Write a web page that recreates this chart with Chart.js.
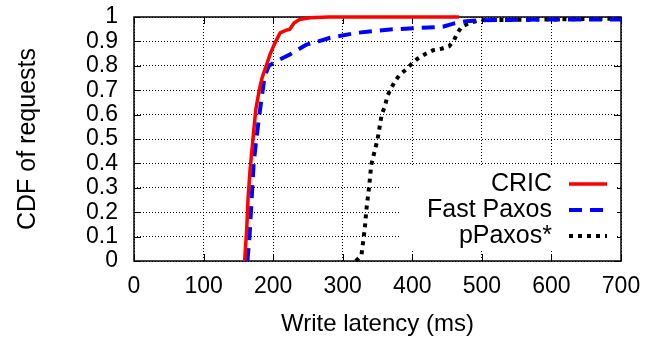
<!DOCTYPE html>
<html>
<head>
<meta charset="utf-8">
<script src="https://cdn.jsdelivr.net/npm/chart.js@4.4.1/dist/chart.umd.min.js"></script>
<style>
html, body { margin: 0; padding: 0; background: #fff; }
#wrap { width: 660px; height: 341px; }
</style>
</head>
<body>
<div id="wrap"><canvas id="cdfChart" width="660" height="341"></canvas></div>
<script>
// axis ticks
var xTicks = [0, 100, 200, 300, 400, 500, 600, 700];
var yTicks = [0, 0.1, 0.2, 0.3, 0.4, 0.5, 0.6, 0.7, 0.8, 0.9, 1];
var yLabels = ["0", "0.1", "0.2", "0.3", "0.4", "0.5", "0.6", "0.7", "0.8", "0.9", "1"];

var seriesNames = ["CRIC", "Fast Paxos", "pPaxos*"];

// CRIC
var cricLatency = [159, 162, 164, 167, 170, 172, 175, 180, 184, 190, 196, 202, 210, 218, 224, 230, 238, 253, 280, 467];
var cricCdf     = [0, 0.13, 0.26, 0.38, 0.47, 0.53, 0.62, 0.7, 0.75, 0.8, 0.85, 0.89, 0.935, 0.945, 0.95, 0.975, 0.99, 0.997, 1, 1];

// Fast Paxos
var fastLatency = [163, 166, 168, 170, 172, 175, 178, 183, 188, 194, 205, 224, 248, 265, 282, 320, 368, 444, 459, 478, 497, 600, 700];
var fastCdf     = [0, 0.1, 0.2, 0.3, 0.4, 0.48, 0.55, 0.66, 0.76, 0.8, 0.82, 0.846, 0.887, 0.9, 0.915, 0.935, 0.949, 0.96, 0.973, 0.983, 0.987, 0.99, 0.99];

// pPaxos*
var ppaxosLatency = [319, 327, 332, 334, 338, 341, 350, 356, 361, 364, 369, 375, 382, 391, 399, 408, 420, 430, 442, 453, 460, 465, 471, 483, 497, 600, 700];
var ppaxosCdf     = [0, 0.025, 0.14, 0.21, 0.305, 0.394, 0.497, 0.6, 0.637, 0.675, 0.705, 0.736, 0.764, 0.784, 0.808, 0.83, 0.85, 0.864, 0.87, 0.88, 0.905, 0.935, 0.96, 0.976, 0.987, 0.99, 0.993];

var lineColors = ["#ff0000", "#0000ff", "#000000"];
var lineDashes = [[], [13, 8], [4, 5]];
var lineWidths = [3.5, 4, 4];

function toPoints(xs, ys) {
  return xs.map(function(x, i) { return {x: x, y: ys[i]}; });
}

var FONT = "'Liberation Sans', Arial, sans-serif";

// 枠と内向きの目盛り
var framePlugin = {
  id: 'frame',
  beforeDatasetsDraw: function(chart) {
    var ctx = chart.ctx, a = chart.chartArea;
    var xs = chart.scales.x, ys = chart.scales.y;
    ctx.save();
    ctx.strokeStyle = '#000';
    ctx.lineWidth = 1;
    ctx.setLineDash([]);
    ctx.beginPath();
    yTicks.forEach(function(v) {
      var py = Math.round(ys.getPixelForValue(v)) + 0.5;
      ctx.moveTo(a.left, py); ctx.lineTo(a.left + 7, py);
      ctx.moveTo(a.right, py); ctx.lineTo(a.right - 7, py);
    });
    xTicks.forEach(function(v) {
      var px = Math.round(xs.getPixelForValue(v)) + 0.5;
      ctx.moveTo(px, a.bottom); ctx.lineTo(px, a.bottom - 7);
      ctx.moveTo(px, a.top); ctx.lineTo(px, a.top + 7);
    });
    ctx.stroke();
    ctx.lineWidth = 1.5;
    ctx.strokeRect(a.left, a.top, a.right - a.left, a.bottom - a.top);
    ctx.restore();
  }
};

// 凡例（右寄せ、サンプル線は右）
var legendPlugin = {
  id: 'rightLegend',
  afterDatasetsDraw: function(chart) {
    var ctx = chart.ctx, a = chart.chartArea;
    ctx.save();
    ctx.fillStyle = '#fff';
    ctx.fillRect(a.left + 266, a.top + 150, a.right - a.left - 270, 83);
    ctx.font = "25px " + FONT;
    ctx.textAlign = 'right';
    ctx.textBaseline = 'middle';
    chart.data.datasets.forEach(function(ds, i) {
      var y = a.top + 167 + i * 26;
      ctx.fillStyle = '#000';
      ctx.fillText(ds.label, a.right - 69, y);
      ctx.strokeStyle = ds.borderColor;
      ctx.lineWidth = ds.borderWidth;
      ctx.setLineDash(ds.borderDash);
      ctx.beginPath();
      ctx.moveTo(a.right - 52, y);
      ctx.lineTo(a.right - 14, y);
      ctx.stroke();
    });
    ctx.restore();
  }
};

var ctx = document.getElementById("cdfChart");
var chart = new Chart(ctx, {
  type: 'scatter',
  data: {
    datasets: [
      { label: seriesNames[0], data: toPoints(cricLatency, cricCdf) },
      { label: seriesNames[1], data: toPoints(fastLatency, fastCdf) },
      { label: seriesNames[2], data: toPoints(ppaxosLatency, ppaxosCdf) }
    ].map(function(ds, i) {
      ds.showLine = true;
      ds.borderColor = lineColors[i];
      ds.backgroundColor = lineColors[i];
      ds.borderWidth = lineWidths[i];
      ds.borderDash = lineDashes[i];
      ds.pointRadius = 0;
      ds.tension = 0;
      ds.clip = 4;
      return ds;
    })
  },
  plugins: [framePlugin, legendPlugin],
  options: {
    responsive: false,
    devicePixelRatio: 1,
    animation: false,
    layout: { padding: { top: 17, right: 39, left: 0, bottom: 0 } },
    plugins: {
      legend: { display: false },
      tooltip: { enabled: false }
    },
    scales: {
      x: {
        type: 'linear',
        min: 0,
        max: 700,
        afterBuildTicks: function(s) {
          s.ticks = xTicks.map(function(v) { return {value: v}; });
        },
        afterFit: function(s) {
          s.height = 80;
          s.paddingLeft = 0;
          s.paddingRight = 0;
        },
        ticks: {
          color: '#000',
          padding: 12,
          maxRotation: 0,
          autoSkip: false,
          font: { family: FONT, size: 23 },
          callback: function(v) { return String(v); }
        },
        grid: { color: '#000', lineWidth: 1, drawTicks: false },
        border: { display: false, dash: [1, 2] },
        title: {
          display: true,
          text: 'Write latency (ms)',
          color: '#000',
          font: { family: FONT, size: 24 },
          padding: { top: 0, bottom: 2 }
        }
      },
      y: {
        type: 'linear',
        min: 0,
        max: 1,
        afterBuildTicks: function(s) {
          s.ticks = yTicks.map(function(v) { return {value: v}; });
        },
        afterFit: function(s) {
          s.width = 134;
          s.paddingTop = 0;
          s.paddingBottom = 0;
        },
        ticks: {
          color: '#000',
          padding: 16,
          autoSkip: false,
          font: { family: FONT, size: 23 },
          callback: function(v, i) { return yLabels[i]; }
        },
        grid: { color: '#000', lineWidth: 1, drawTicks: false },
        border: { display: false, dash: [1, 2] },
        title: {
          display: true,
          text: 'CDF of requests',
          color: '#000',
          font: { family: FONT, size: 25 },
          padding: { top: 13, bottom: 0 }
        }
      }
    }
  }
});
</script>
</body>
</html>
